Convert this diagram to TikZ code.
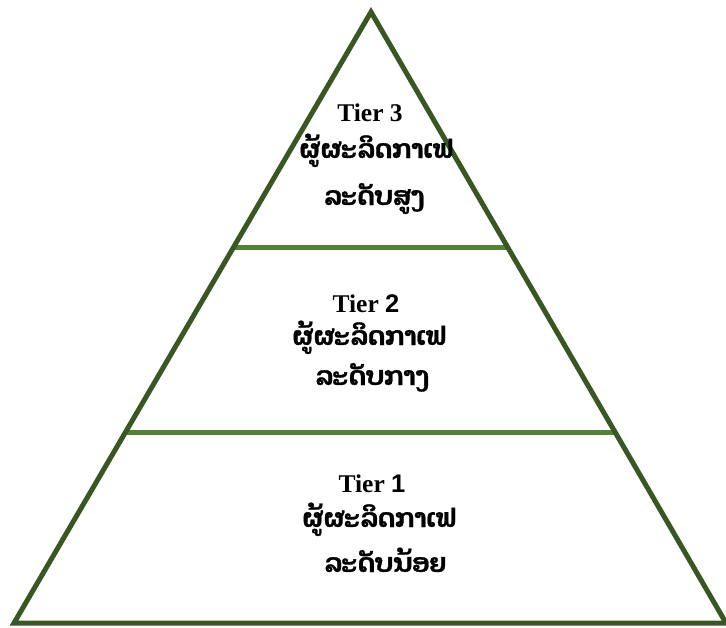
\documentclass[tikz,border=0pt]{standalone}
\usepackage{fontspec}
\usetikzlibrary{calc}
\setmainfont{Liberation Serif}
\newfontfamily\laofont[Script=Lao, BoldFeatures={FakeBold=1.2}]{Dhyana}
\newfontfamily\sansdigit{Liberation Sans}
\definecolor{outlinegreen}{HTML}{385723}
\definecolor{tiergreen}{HTML}{548235}
\begin{document}
\begin{tikzpicture}[x=1pt,y=-1pt,
  tiertitle/.style={font=\fontsize{25.5}{25.5}\selectfont\bfseries, anchor=base, inner sep=0pt},
  laotext/.style={font=\laofont\fontsize{26}{26}\selectfont\bfseries, anchor=base, inner sep=0pt},
  divider/.style={tiergreen, line width=5pt},
  outline/.style={outlinegreen, line width=5pt, line join=miter}]
\useasboundingbox (0,0) rectangle (726,627);
\coordinate (apex) at (371,12);
\coordinate (bl) at (14,623);
\coordinate (br) at (726,623);
\coordinate (d2l) at ($(bl)!0.6146!(apex)$);
\coordinate (d2r) at ($(br)!0.6146!(apex)$);
\coordinate (d1l) at ($(bl)!0.3118!(apex)$);
\coordinate (d1r) at ($(br)!0.3118!(apex)$);
\draw[divider] (d2l) -- (d2r);
\draw[divider] (d1l) -- (d1r);
\draw[outline] (apex) -- (bl) -- (br) -- cycle;
\node[tiertitle] (t3) at (370,121) {Tier 3};
\node[laotext] (t3a) at (376,158) {ຜູ້ຜະລິດກາເຟ};
\node[laotext] (t3b) at (374,205) {ລະດັບສູງ};
\node[tiertitle] (t2) at (366,312) {Tier {\sansdigit 2}};
\node[laotext] (t2a) at (369,345) {ຜູ້ຜະລິດກາເຟ};
\node[laotext] (t2b) at (372,385) {ລະດັບກາງ};
\node[tiertitle] (t1) at (372,492) {Tier {\sansdigit 1}};
\node[laotext] (t1a) at (379,527) {ຜູ້ຜະລິດກາເຟ};
\node[laotext] (t1b) at (385,572) {ລະດັບນ້ອຍ};
\end{tikzpicture}
\end{document}
